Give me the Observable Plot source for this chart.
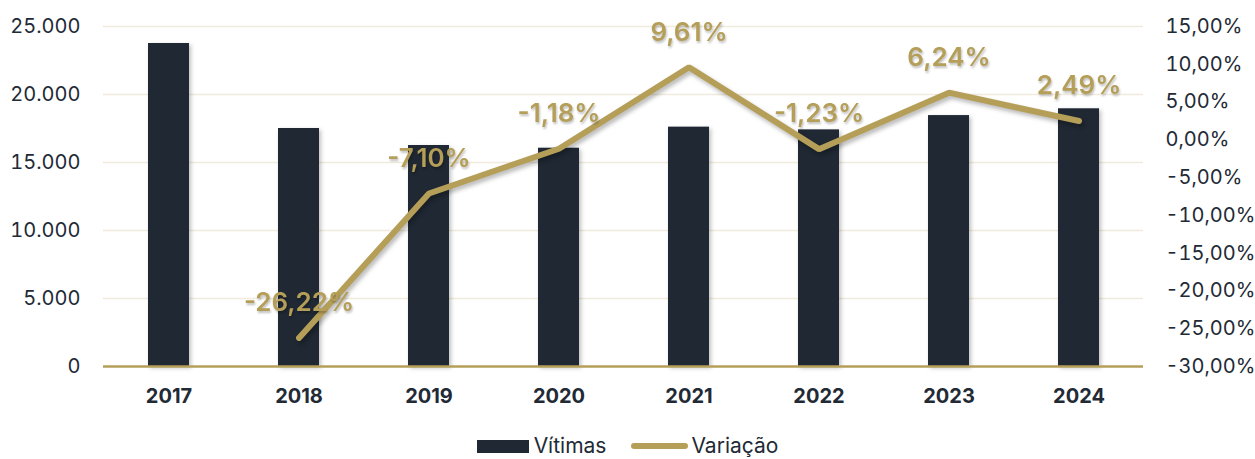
<!DOCTYPE html>
<html>
<head>
<meta charset="utf-8">
<script src="https://cdn.jsdelivr.net/npm/d3@7"></script>
<script src="https://cdn.jsdelivr.net/npm/@observablehq/plot@0.6"></script>
<style>
  body { margin: 0; background: #fff; font-family: Inter, "Noto Sans", sans-serif; }
  #chart svg { display: block; }
  #chart svg g[aria-label="line"] path { filter: drop-shadow(2px 3px 2px rgba(0,0,0,0.28)); }
  #chart svg g[aria-label="text"] text { filter: drop-shadow(1px 2px 1px rgba(0,0,0,0.25)); }
  #chart svg g[aria-label="bar"] rect { filter: drop-shadow(2px 2px 2px rgba(0,0,0,0.25)); }
  .legend { display: flex; justify-content: center; align-items: center; height: 24px; line-height: 24px; font-size: 21px; color: #222a35; margin-top: 14px; }
  .legend .item { display: flex; align-items: center; }
  .sw-bar { width: 52px; height: 13px; background: #1f2833; margin-right: 5px; }
  .sw-line { width: 57px; height: 6px; border-radius: 3px; background: #b59f58; margin-right: 3px; margin-left: 25px; }
</style>
</head>
<body>
<div id="chart"></div>
<div class="legend">
  <div class="item"><div class="sw-bar"></div><span>Vítimas</span></div>
  <div class="item"><div class="sw-line"></div><span>Variação</span></div>
</div>
<script>
const years = ["2017", "2018", "2019", "2020", "2021", "2022", "2023", "2024"];
const vitimas = [23750, 17500, 16250, 16050, 17600, 17400, 18450, 18950];
const variacao = [null, -26.22, -7.10, -1.18, 9.61, -1.23, 6.24, 2.49];
const leftTicks = [0, 5000, 10000, 15000, 20000, 25000];
const pctTicks = [-30, -25, -20, -15, -10, -5, 0, 5, 10, 15];

const gold = "#b59f58";
const barColor = "#1f2833";
const textColor = "#222a35";

// right axis domain [-30, 15] mapped onto left domain [0, 25000]
const pMin = -30, pMax = 15, yMax = 25000;
const toLeft = p => (p - pMin) / (pMax - pMin) * yMax;
const fromLeft = v => v / yMax * (pMax - pMin) + pMin;

const fmtThousands = d => String(d).replace(/\B(?=(\d{3})+(?!\d))/g, ".");
const fmtPct = p => {
  let r = Math.round(p * 100) / 100;
  if (Object.is(r, -0)) r = 0;
  return r.toFixed(2).replace(".", ",") + "%";
};

const barData = years.map((y, i) => ({year: y, value: vitimas[i]}));
const lineData = years.map((y, i) => ({year: y, pct: variacao[i]})).filter(d => d.pct !== null);

const chart = Plot.plot({
  width: 1255,
  height: 420,
  marginTop: 26,
  marginBottom: 54,
  marginLeft: 103,
  marginRight: 112,
  style: {fontFamily: "Inter, 'Noto Sans', sans-serif", color: textColor, background: "#fff"},
  x: {domain: years, paddingInner: 0.685, paddingOuter: 0.3425, label: null},
  y: {domain: [0, yMax], label: null},
  marks: [
    Plot.ruleY(leftTicks.filter(d => d > 0), {stroke: "#f0ebdd", strokeWidth: 1.5}),
    Plot.barY(barData, {x: "year", y: "value", fill: barColor}),
    Plot.ruleY([0], {stroke: gold, strokeWidth: 2.5}),
    Plot.axisY(leftTicks, {anchor: "left", tickSize: 0, tickPadding: 23, tickFormat: fmtThousands, fontSize: 20, fill: textColor, label: null}),
    Plot.axisY(pctTicks.map(toLeft), {anchor: "right", tickSize: 0, tickPadding: 22, tickFormat: d => fmtPct(fromLeft(d)), fontSize: 20, fill: textColor, textAnchor: "start", label: null}),
    Plot.axisX({tickSize: 0, tickPadding: 22, fontSize: 20, fontWeight: "bold", fill: textColor, label: null}),
    Plot.line(lineData, {x: "year", y: d => toLeft(d.pct), stroke: gold, strokeWidth: 6, strokeLinecap: "round", strokeLinejoin: "miter"}),
    Plot.text(lineData, {x: "year", y: d => toLeft(d.pct), text: d => fmtPct(d.pct), dy: -35, fill: gold, fontSize: 26, fontWeight: 600})
  ]
});
document.getElementById("chart").appendChild(chart);
</script>
</body>
</html>
